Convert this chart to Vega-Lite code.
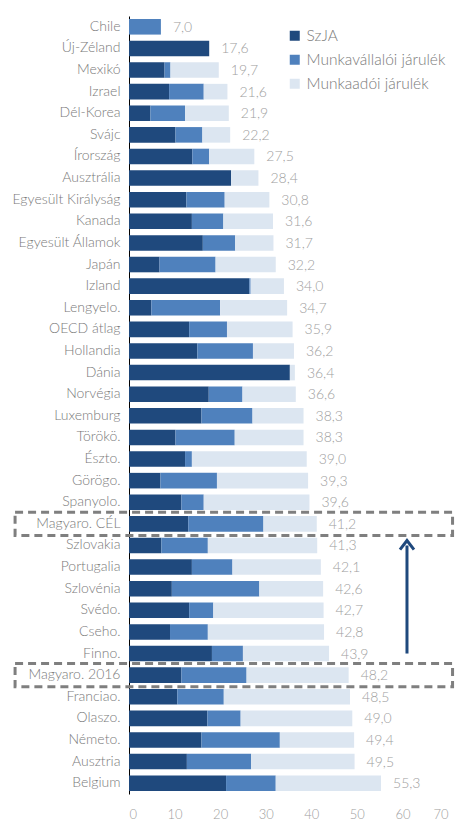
{
  "$schema": "https://vega.github.io/schema/vega-lite/v6.json",
  "width": 319,
  "height": 778,
  "autosize": "none",
  "padding": {"left": 129, "top": 16, "right": 20, "bottom": 35},
  "background": "white",
  "config": {
    "view": {"stroke": null},
    "font": "Lato",
    "locale": {"number": {"decimal": ",", "thousands": " ", "grouping": [3], "currency": ["", ""]}}
  },
  "datasets": {
    "main": [
      {"c": "Chile", "szja": 0, "mv": 7.0, "ma": 0, "total": 7.0},
      {"c": "Új-Zéland", "szja": 17.6, "mv": 0, "ma": 0, "total": 17.6},
      {"c": "Mexikó", "szja": 7.8, "mv": 1.3, "ma": 10.6, "total": 19.7},
      {"c": "Izrael", "szja": 8.8, "mv": 7.6, "ma": 5.2, "total": 21.6},
      {"c": "Dél-Korea", "szja": 4.7, "mv": 7.6, "ma": 9.6, "total": 21.9},
      {"c": "Svájc", "szja": 10.2, "mv": 5.9, "ma": 6.1, "total": 22.2},
      {"c": "Írország", "szja": 13.9, "mv": 3.7, "ma": 9.9, "total": 27.5},
      {"c": "Ausztrália", "szja": 22.4, "mv": 0, "ma": 6.0, "total": 28.4},
      {"c": "Egyesült Királyság", "szja": 12.6, "mv": 8.4, "ma": 9.8, "total": 30.8},
      {"c": "Kanada", "szja": 13.8, "mv": 6.9, "ma": 10.9, "total": 31.6},
      {"c": "Egyesült Államok", "szja": 16.2, "mv": 7.1, "ma": 8.4, "total": 31.7},
      {"c": "Japán", "szja": 6.7, "mv": 12.3, "ma": 13.2, "total": 32.2},
      {"c": "Izland", "szja": 26.4, "mv": 0.3, "ma": 7.3, "total": 34.0},
      {"c": "Lengyelo.", "szja": 4.9, "mv": 15.1, "ma": 14.7, "total": 34.7},
      {"c": "OECD átlag", "szja": 13.2, "mv": 8.3, "ma": 14.4, "total": 35.9},
      {"c": "Hollandia", "szja": 15.0, "mv": 12.2, "ma": 9.0, "total": 36.2},
      {"c": "Dánia", "szja": 35.3, "mv": 0, "ma": 1.1, "total": 36.4},
      {"c": "Norvégia", "szja": 17.5, "mv": 7.4, "ma": 11.7, "total": 36.6},
      {"c": "Luxemburg", "szja": 15.9, "mv": 11.2, "ma": 11.2, "total": 38.3},
      {"c": "Törökö.", "szja": 10.2, "mv": 13.0, "ma": 15.1, "total": 38.3},
      {"c": "Észto.", "szja": 12.3, "mv": 1.5, "ma": 25.2, "total": 39.0},
      {"c": "Görögo.", "szja": 6.9, "mv": 12.4, "ma": 20.0, "total": 39.3},
      {"c": "Spanyolo.", "szja": 11.5, "mv": 4.9, "ma": 23.2, "total": 39.6},
      {"c": "Magyaro. CÉL", "szja": 13.0, "mv": 16.5, "ma": 11.7, "total": 41.2},
      {"c": "Szlovakia", "szja": 7.1, "mv": 10.2, "ma": 24.0, "total": 41.3},
      {"c": "Portugalia", "szja": 13.8, "mv": 8.9, "ma": 19.4, "total": 42.1},
      {"c": "Szlovénia", "szja": 9.4, "mv": 19.2, "ma": 14.0, "total": 42.6},
      {"c": "Svédo.", "szja": 13.2, "mv": 5.3, "ma": 24.2, "total": 42.7},
      {"c": "Cseho.", "szja": 9.0, "mv": 8.3, "ma": 25.5, "total": 42.8},
      {"c": "Finno.", "szja": 18.2, "mv": 6.8, "ma": 18.9, "total": 43.9},
      {"c": "Magyaro. 2016", "szja": 11.5, "mv": 14.3, "ma": 22.4, "total": 48.2},
      {"c": "Franciao.", "szja": 10.6, "mv": 10.2, "ma": 27.7, "total": 48.5},
      {"c": "Olaszo.", "szja": 17.2, "mv": 7.3, "ma": 24.5, "total": 49.0},
      {"c": "Németo.", "szja": 15.9, "mv": 17.2, "ma": 16.3, "total": 49.4},
      {"c": "Ausztria", "szja": 12.7, "mv": 14.1, "ma": 22.7, "total": 49.5},
      {"c": "Belgium", "szja": 21.3, "mv": 10.9, "ma": 23.1, "total": 55.3}
    ],
    "boxes": [{"c": "Magyaro. CÉL"}, {"c": "Magyaro. 2016"}],
    "arrow": [{"from": "Finno.", "to": "Szlovakia"}]
  },
  "layer": [
    {
      "data": {"name": "main"},
      "transform": [{"fold": ["szja", "mv", "ma"], "as": ["k", "v"]}],
      "mark": {"type": "bar"},
      "encoding": {
        "y": {
          "field": "c", "type": "nominal",
          "scale": {
            "domain": ["Chile", "Új-Zéland", "Mexikó", "Izrael", "Dél-Korea", "Svájc", "Írország", "Ausztrália", "Egyesült Királyság", "Kanada", "Egyesült Államok", "Japán", "Izland", "Lengyelo.", "OECD átlag", "Hollandia", "Dánia", "Norvégia", "Luxemburg", "Törökö.", "Észto.", "Görögo.", "Spanyolo.", "Magyaro. CÉL", "Szlovakia", "Portugalia", "Szlovénia", "Svédo.", "Cseho.", "Finno.", "Magyaro. 2016", "Franciao.", "Olaszo.", "Németo.", "Ausztria", "Belgium"],
            "paddingInner": 0.28, "paddingOuter": 0.14
          },
          "axis": {
            "title": null, "ticks": false, "domainColor": "#000000", "domainWidth": 1,
            "labelPadding": 9, "labelFontSize": 14, "labelFont": "Lato", "labelFontWeight": 300,
            "labelColor": "#7a7a7a", "grid": false
          }
        },
        "x": {
          "field": "v", "type": "quantitative", "stack": "zero",
          "scale": {"domain": [0, 70], "nice": false},
          "axis": {
            "title": null, "domain": false, "ticks": false, "grid": false,
            "values": [0, 10, 20, 30, 40, 50, 60, 70], "format": "d",
            "labelPadding": 14, "labelFontSize": 13, "labelFont": "Lato", "labelFontWeight": 300,
            "labelColor": "#a0a0a0"
          }
        },
        "color": {
          "field": "k", "type": "nominal",
          "scale": {"domain": ["szja", "mv", "ma"], "range": ["#1f497d", "#4f81bd", "#dce6f1"]},
          "legend": {
            "orient": "none", "legendX": 158, "legendY": 12, "title": null, "padding": 0,
            "symbolType": "square", "symbolSize": 100, "symbolStrokeWidth": 0,
            "labelFontSize": 15.5, "labelFont": "Lato", "labelFontWeight": 300, "labelColor": "#7a7a7a",
            "labelOffset": 4, "rowPadding": 7,
            "labelExpr": "datum.value == 'szja' ? 'SzJA' : datum.value == 'mv' ? 'Munkavállalói járulék' : 'Munkaadói járulék'"
          }
        },
        "order": {"field": "k", "sort": "descending"}
      }
    },
    {
      "data": {"name": "main"},
      "mark": {"type": "text", "align": "left", "baseline": "middle", "dx": 12, "dy": 1, "fontSize": 14, "font": "Lato", "fontWeight": 300, "color": "#a0a0a0"},
      "encoding": {
        "y": {"field": "c", "type": "nominal"},
        "x": {"field": "total", "type": "quantitative"},
        "text": {"field": "total", "type": "quantitative", "format": ".1f"}
      }
    },
    {
      "data": {"name": "boxes"},
      "mark": {"type": "bar", "fillOpacity": 0, "stroke": "#7f7f7f", "strokeWidth": 3, "strokeDash": [8, 5], "height": {"band": 1.5}, "clip": false},
      "encoding": {
        "y": {"field": "c", "type": "nominal"},
        "x": {"datum": -25, "type": "quantitative"},
        "x2": {"datum": 71}
      }
    },
    {
      "data": {"name": "arrow"},
      "mark": {"type": "rule", "color": "#1f497d", "strokeWidth": 3},
      "encoding": {
        "y": {"field": "from", "type": "nominal"},
        "y2": {"field": "to"},
        "x": {"datum": 61, "type": "quantitative"}
      }
    },
    {
      "data": {"name": "arrow"},
      "mark": {"type": "point", "shape": "M-1,0.6L0,-0.7L1,0.6", "size": 196, "filled": false, "stroke": "#1f497d", "strokeWidth": 3, "opacity": 1},
      "encoding": {
        "y": {"field": "to", "type": "nominal"},
        "x": {"datum": 61, "type": "quantitative"}
      }
    }
  ]
}
